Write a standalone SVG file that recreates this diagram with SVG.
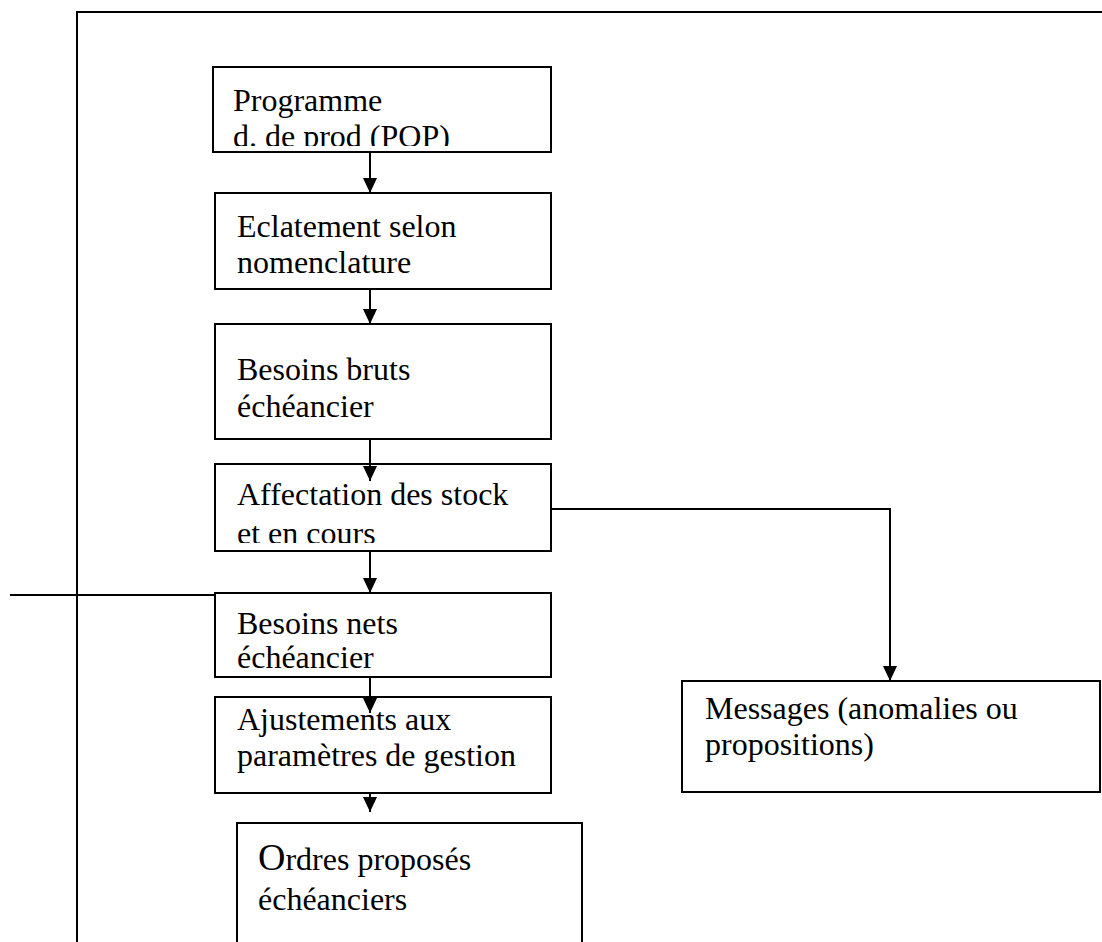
<svg xmlns="http://www.w3.org/2000/svg" width="1102" height="942" viewBox="0 0 1102 942">
  <style>
    .box { fill: #ffffff; stroke: #000000; stroke-width: 2; }
    .frame { fill: none; stroke: #000000; stroke-width: 2; }
    .lbl { font-family: "Liberation Serif", "Times New Roman", serif; font-size: 32px; fill: #000000; }
    .big { font-size: 38px; }
    .wire { fill: none; stroke: #000000; stroke-width: 2; }
  </style>
  <defs>
    <marker id="head" viewBox="0 0 15 14" refX="15" refY="7" markerWidth="15" markerHeight="14" markerUnits="userSpaceOnUse" orient="auto">
      <path d="M0,0 L15,7 L0,14 z" fill="#000000"/>
    </marker>
    <!-- text frames narrower than their boxes: the last line is cut off -->
    <clipPath id="c1"><rect x="214" y="68" width="336" height="78"/></clipPath>
    <clipPath id="c4"><rect x="216" y="465" width="334" height="78"/></clipPath>
  </defs>

  <rect width="1102" height="942" fill="#ffffff"/>

  <!-- page frame -->
  <g id="frame">
    <path class="frame" d="M77,942 V12 H1102"/>
    <path class="frame" d="M10,595 H215"/>
  </g>

  <g id="n-programme">
    <rect class="box" x="213" y="67" width="338" height="85"/>
    <g clip-path="url(#c1)">
      <text class="lbl" x="233" y="111">Programme</text>
      <text class="lbl" x="233" y="147">d. de prod (POP)</text>
    </g>
  </g>

  <g id="n-eclatement">
    <rect class="box" x="215" y="193" width="336" height="96"/>
    <text class="lbl" x="237" y="237">Eclatement selon</text>
    <text class="lbl" x="237" y="273">nomenclature</text>
  </g>

  <g id="n-bruts">
    <rect class="box" x="215" y="324" width="336" height="115"/>
    <text class="lbl" x="237" y="380">Besoins bruts</text>
    <text class="lbl" x="237" y="417">échéancier</text>
  </g>

  <g id="n-affectation">
    <rect class="box" x="215" y="464" width="336" height="87"/>
    <g clip-path="url(#c4)">
      <text class="lbl" x="237" y="505">Affectation des stock</text>
      <text class="lbl" x="237" y="544">et en cours</text>
    </g>
  </g>

  <g id="n-nets">
    <rect class="box" x="215" y="593" width="336" height="84"/>
    <text class="lbl" x="237" y="634">Besoins nets</text>
    <text class="lbl" x="237" y="668">échéancier</text>
  </g>

  <g id="n-ajustements">
    <rect class="box" x="215" y="697" width="336" height="96"/>
    <text class="lbl" x="237" y="730">Ajustements aux</text>
    <text class="lbl" x="237" y="766">paramètres de gestion</text>
  </g>

  <g id="n-ordres">
    <rect class="box" x="237" y="823" width="345" height="130"/>
    <text class="lbl" x="258" y="870"><tspan class="big">O</tspan>rdres proposés</text>
    <text class="lbl" x="258" y="910">échéanciers</text>
  </g>

  <g id="n-messages">
    <rect class="box" x="682" y="681" width="418" height="111"/>
    <text class="lbl" x="705" y="719">Messages (anomalies ou</text>
    <text class="lbl" x="705" y="755">propositions)</text>
  </g>

  <!-- connectors, drawn over the boxes -->
  <g id="connectors">
    <path class="wire" d="M370,152 V193" marker-end="url(#head)"/>
    <path class="wire" d="M370,289 V324" marker-end="url(#head)"/>
    <path class="wire" d="M370,439 V481" marker-end="url(#head)"/>
    <path class="wire" d="M370,551 V593" marker-end="url(#head)"/>
    <path class="wire" d="M370,677 V713" marker-end="url(#head)"/>
    <path class="wire" d="M370,793 V812" marker-end="url(#head)"/>
    <path class="wire" d="M551,509 H890 V681" marker-end="url(#head)"/>
  </g>
</svg>
